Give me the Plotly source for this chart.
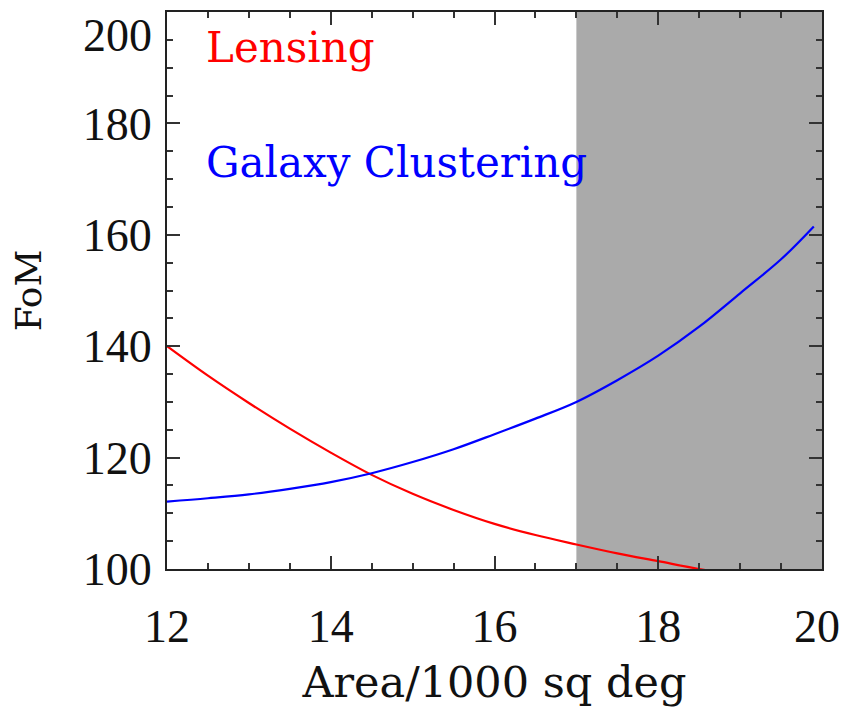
import plotly.graph_objects as go

# Data
area = [12.0, 12.5, 13.0, 13.5, 14.0, 14.5, 15.0, 15.5, 16.0, 16.5, 17.0, 17.5, 18.0, 18.5, 19.0, 19.5, 19.9]
fom_lensing = [140.0, 134.7, 129.8, 125.2, 120.9, 116.9, 113.5, 110.6, 108.1, 106.1, 104.4, 102.8, 101.4, 100.0, 98.8, 97.7, 96.9]
fom_clustering = [112.1, 112.7, 113.4, 114.4, 115.6, 117.2, 119.2, 121.5, 124.2, 127.0, 130.0, 133.9, 138.3, 143.5, 149.5, 155.6, 161.5]
shade_start = 17
shade_end = 20
x_ticks = [12, 14, 16, 18, 20]
y_ticks = [100, 120, 140, 160, 180, 200]

tick_font = dict(family="Liberation Serif", size=46, color="#111")

fig = go.Figure()
fig.add_shape(type="rect", xref="x", yref="paper", x0=shade_start, x1=shade_end, y0=0, y1=1,
              fillcolor="#aaaaaa", line_width=0, layer="below")
fig.add_trace(go.Scatter(x=area, y=fom_lensing, mode="lines", line=dict(color="#ff0000", width=2.2, shape="spline", smoothing=1.0),
                         name="Lensing", showlegend=False))
fig.add_trace(go.Scatter(x=area, y=fom_clustering, mode="lines", line=dict(color="#0000ff", width=2.2, shape="spline", smoothing=1.0),
                         name="Galaxy Clustering", showlegend=False))

fig.add_annotation(x=12.45, y=193.7, xref="x", yref="y", text="Lensing", showarrow=False,
                   xanchor="left", yanchor="middle", font=dict(family="DejaVu Serif", size=42, color="#ff0000"))
fig.add_annotation(x=12.45, y=173.0, xref="x", yref="y", text="Galaxy Clustering", showarrow=False,
                   xanchor="left", yanchor="middle", font=dict(family="DejaVu Serif", size=42, color="#0000ff"))

# end tick labels are nudged inside the figure, as in the reference
fig.add_annotation(x=0, y=y_ticks[-1], xref="paper", yref="y", text=str(y_ticks[-1]), showarrow=False,
                   xanchor="right", yanchor="middle", xshift=-13, yshift=-23, font=tick_font)
fig.add_annotation(x=x_ticks[-1], y=0, xref="x", yref="paper", text=str(x_ticks[-1]), showarrow=False,
                   xanchor="center", yanchor="top", xshift=-5, yshift=-30, font=tick_font)

axis_common = dict(showgrid=False, zeroline=False, showline=True, linecolor="#222", linewidth=2,
                   mirror="ticks", ticks="inside", tickcolor="#333", tickwidth=1.5, ticklen=13,
                   automargin=False, ticklabeloverflow="allow")

fig.update_xaxes(range=[12, 20], tickvals=x_ticks, ticktext=[str(v) for v in x_ticks[:-1]] + [""],
                 minor=dict(dtick=0.5, ticks="inside", ticklen=6, tickcolor="#333", tickwidth=1.5, showgrid=False),
                 tickfont=tick_font,
                 ticklabelstandoff=16,
                 title=dict(text="Area/1000 sq deg", font=dict(family="DejaVu Serif", size=43, color="#111"), standoff=16),
                 **axis_common)
fig.update_yaxes(range=[100, 200], tickvals=y_ticks, ticktext=[str(v) for v in y_ticks[:-1]] + [""],
                 minor=dict(dtick=5, ticks="inside", ticklen=6, tickcolor="#333", tickwidth=1.5, showgrid=False),
                 tickfont=tick_font,
                 ticklabelstandoff=4,
                 title=dict(text="FoM", font=dict(family="DejaVu Serif", size=36, color="#111"), standoff=31),
                 **axis_common)

fig.update_layout(width=840, height=707, margin=dict(l=159, r=26, t=4, b=146),
                  plot_bgcolor="white", paper_bgcolor="white")

fig.write_html("out.html")
